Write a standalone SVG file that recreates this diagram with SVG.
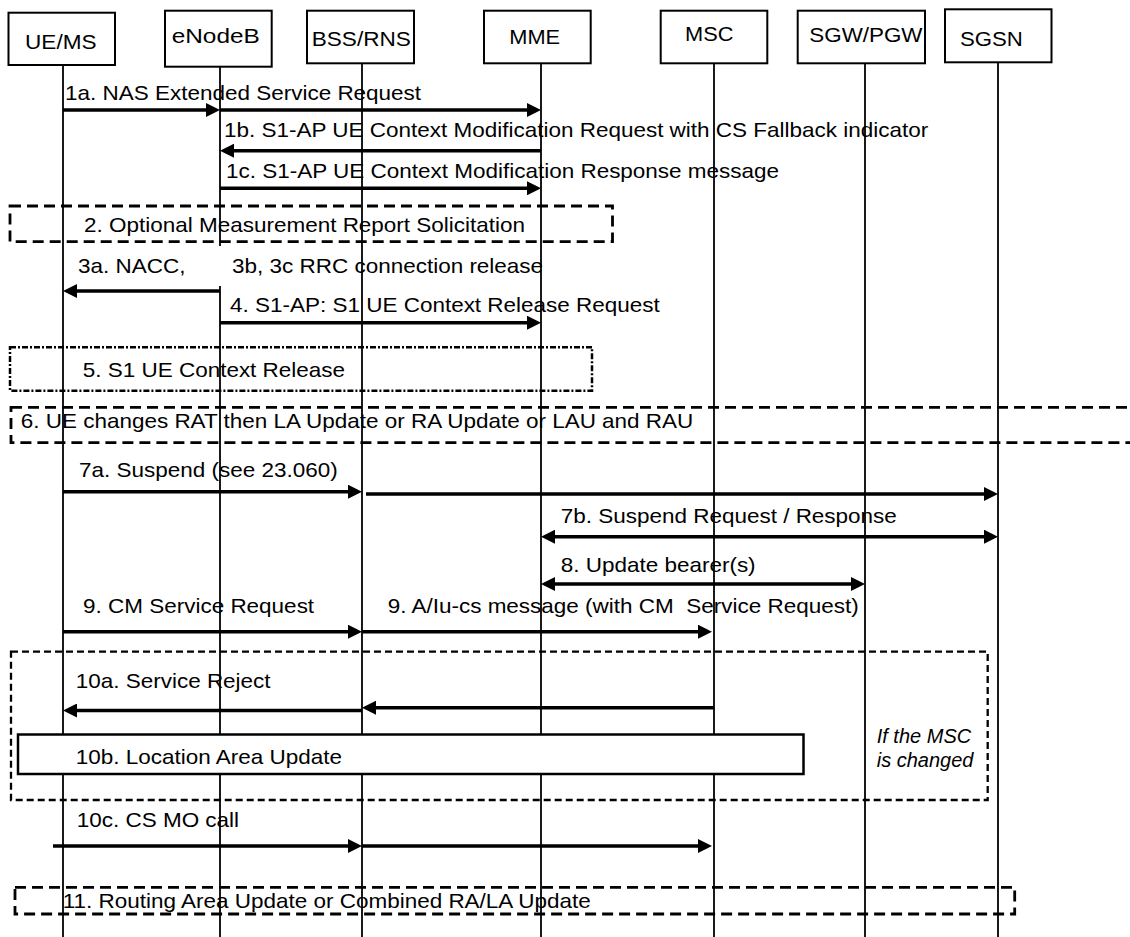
<svg xmlns="http://www.w3.org/2000/svg" width="1130" height="937" viewBox="0 0 1130 937">
<style>
.box{fill:#fff;stroke:#000;stroke-width:2}
.life{stroke:#000;stroke-width:1.8;fill:none}
.t{font-family:"Liberation Sans",Arial,sans-serif;font-size:20px;fill:#000}
.ti{font-family:"Liberation Sans",Arial,sans-serif;font-size:20px;font-style:italic;fill:#000}
.msg{stroke:#000;stroke-width:3.5;fill:none;marker-end:url(#ah)}
.dbl{marker-start:url(#ah)}
.dash{fill:none;stroke:#000;stroke-width:2.8;stroke-dasharray:11 6}
.dash2{fill:none;stroke:#000;stroke-width:2.3;stroke-dasharray:7 4}
.dashdot{fill:none;stroke:#000;stroke-width:2.5;stroke-dasharray:6 2 2 2}
</style>
<defs>
<marker id="ah" viewBox="0 0 14 14" refX="8" refY="7" markerWidth="14" markerHeight="14" markerUnits="userSpaceOnUse" orient="auto-start-reverse">
<path d="M0,0 L14,7 L0,14 z" fill="#000"/>
</marker>
</defs>
<rect width="1130" height="937" fill="#fff"/>

<g id="node-uems">
<line class="life" x1="63" y1="65" x2="63" y2="937"/>
<rect class="box" x="8.5" y="12.7" width="106.5" height="52.3"/>
<text class="t" transform="matrix(1.13 0 0 1 25 49.3)">UE/MS</text>
</g>
<g id="node-enodeb">
<line class="life" x1="220" y1="66.7" x2="220" y2="937"/>
<rect class="box" x="165" y="10.7" width="106.7" height="56"/>
<text class="t" transform="matrix(1.22 0 0 1 171.7 43.3)">eNodeB</text>
</g>
<g id="node-bssrns">
<line class="life" x1="362" y1="63.3" x2="362" y2="937"/>
<rect class="box" x="307" y="10.7" width="107" height="52.6"/>
<text class="t" transform="matrix(1.13 0 0 1 311.7 45.7)">BSS/RNS</text>
</g>
<g id="node-mme">
<line class="life" x1="541" y1="63.3" x2="541" y2="937"/>
<rect class="box" x="484" y="10.7" width="106.7" height="52.6"/>
<text class="t" transform="matrix(1.09 0 0 1 509.3 44.3)">MME</text>
</g>
<g id="node-msc">
<line class="life" x1="714" y1="63.3" x2="714" y2="937"/>
<rect class="box" x="660.7" y="10.7" width="106.6" height="52.6"/>
<text class="t" transform="matrix(1.09 0 0 1 685 41)">MSC</text>
</g>
<g id="node-sgwpgw">
<line class="life" x1="865" y1="63.3" x2="865" y2="937"/>
<rect class="box" x="797.7" y="10.7" width="127.3" height="52.6"/>
<text class="t" transform="matrix(1.12 0 0 1 809.3 42.3)">SGW/PGW</text>
</g>
<g id="node-sgsn">
<line class="life" x1="998" y1="62.3" x2="998" y2="937"/>
<rect class="box" x="945" y="9.3" width="106.5" height="53"/>
<text class="t" transform="matrix(1.11 0 0 1 960 45.5)">SGSN</text>
</g>

<g id="frames">
<rect class="dash" x="10" y="206" width="602.5" height="35.7"/>
<rect class="dashdot" x="10" y="347.3" width="582" height="43.4"/>
<rect class="dash" x="11" y="407.3" width="1140" height="35.4"/>
<rect class="dash2" x="11" y="651.7" width="976.7" height="148.3"/>
<rect class="box" x="18" y="734.5" width="785.5" height="39.5" style="stroke-width:2.5"/>
<rect class="dash" x="15" y="887.3" width="999.7" height="26.7"/>
<rect x="217" y="246" width="6" height="40" fill="#fff"/>
</g>

<g id="connectors">
<line class="msg" x1="63" y1="110" x2="214" y2="110"/>
<line class="msg" x1="220" y1="110" x2="535" y2="110"/>
<line class="msg" x1="541" y1="150.7" x2="226" y2="150.7"/>
<line class="msg" x1="220" y1="188.3" x2="535" y2="188.3"/>
<line class="msg" x1="220" y1="291" x2="69" y2="291"/>
<line class="msg" x1="220" y1="322.7" x2="535" y2="322.7"/>
<line class="msg" x1="63" y1="491.7" x2="356" y2="491.7"/>
<line class="msg" x1="366" y1="494" x2="992" y2="494"/>
<line class="msg dbl" x1="547" y1="536.7" x2="992" y2="536.7"/>
<line class="msg dbl" x1="547" y1="584" x2="859" y2="584"/>
<line class="msg" x1="63" y1="631.7" x2="356" y2="631.7"/>
<line class="msg" x1="362" y1="631.7" x2="706" y2="631.7"/>
<line class="msg" x1="714" y1="707.7" x2="368" y2="707.7"/>
<line class="msg" x1="362" y1="710.5" x2="69" y2="710.5"/>
<line class="msg" x1="53" y1="846" x2="356" y2="846"/>
<line class="msg" x1="362" y1="846" x2="706" y2="846"/>
</g>

<g id="labels">
<text class="t" transform="matrix(1.125 0 0 1 65 100)">1a. NAS Extended Service Request</text>
<text class="t" transform="matrix(1.125 0 0 1 224 137)">1b. S1-AP UE Context Modification Request with CS Fallback indicator</text>
<text class="t" transform="matrix(1.125 0 0 1 226 178)">1c. S1-AP UE Context Modification Response message</text>
<text class="t" transform="matrix(1.125 0 0 1 84 231.7)">2. Optional Measurement Report Solicitation</text>
<text class="t" transform="matrix(1.125 0 0 1 78 273.3)">3a. NACC,</text>
<text class="t" transform="matrix(1.125 0 0 1 232 273.3)">3b, 3c RRC connection release</text>
<text class="t" transform="matrix(1.125 0 0 1 230 311.7)">4. S1-AP: S1 UE Context Release Request</text>
<text class="t" transform="matrix(1.125 0 0 1 82.7 377.3)">5. S1 UE Context Release</text>
<text class="t" transform="matrix(1.125 0 0 1 20.7 428.3)">6. UE changes RAT then LA Update or RA Update or LAU and RAU</text>
<text class="t" transform="matrix(1.125 0 0 1 79 476.7)">7a. Suspend (see 23.060)</text>
<text class="t" transform="matrix(1.125 0 0 1 560.7 523.3)">7b. Suspend Request / Response</text>
<text class="t" transform="matrix(1.125 0 0 1 560.7 571.7)">8. Update bearer(s)</text>
<text class="t" transform="matrix(1.125 0 0 1 83 613.3)">9. CM Service Request</text>
<text class="t" transform="matrix(1.125 0 0 1 387.7 613.3)" xml:space="preserve">9. A/Iu-cs message (with CM  Service Request)</text>
<text class="t" transform="matrix(1.125 0 0 1 75.7 688.3)">10a. Service Reject</text>
<text class="t" transform="matrix(1.125 0 0 1 75.7 764.3)">10b. Location Area Update</text>
<text class="ti" x="876.7" y="743.3">If the MSC</text>
<text class="ti" x="876.7" y="767.3">is changed</text>
<text class="t" transform="matrix(1.125 0 0 1 76.7 826.7)">10c. CS MO call</text>
<text class="t" transform="matrix(1.125 0 0 1 62.7 908.3)">11. Routing Area Update or Combined RA/LA Update</text>
</g>
</svg>
